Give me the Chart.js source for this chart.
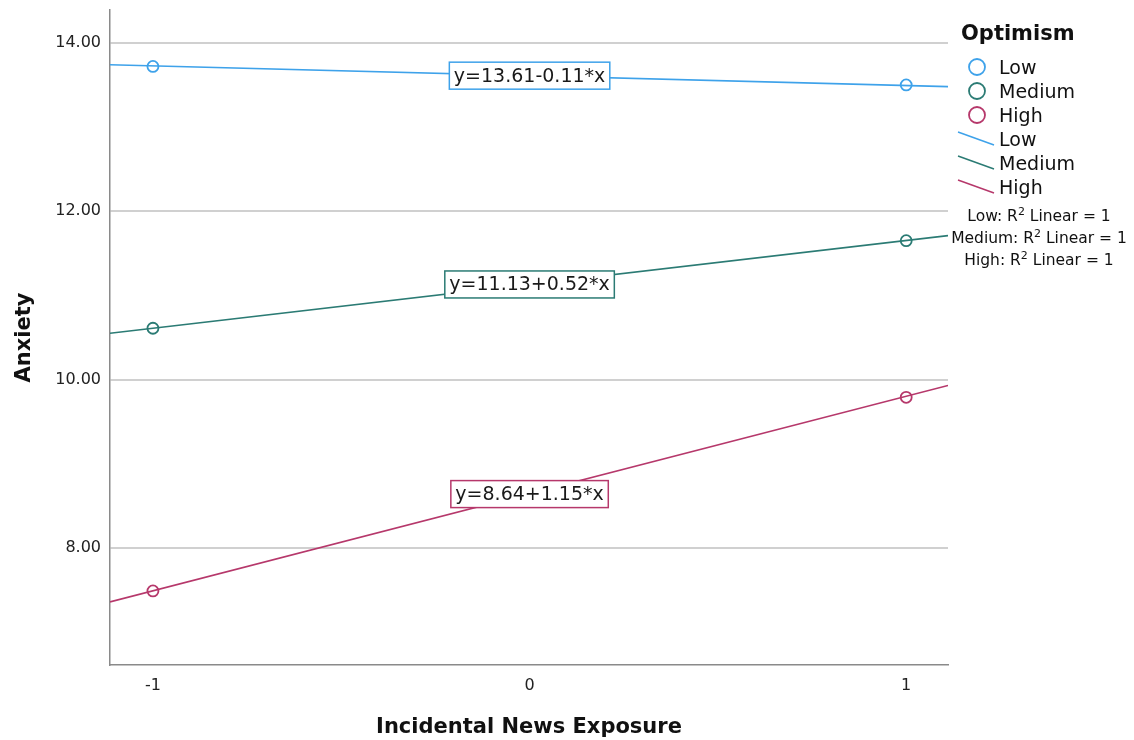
<!DOCTYPE html>
<html lang="en">
<head>
    <meta charset="UTF-8">
    <title>Anxiety by Incidental News Exposure</title>
    <script src="https://cdn.jsdelivr.net/npm/chart.js"></script>
    <style>
        body {
            margin: 0;
            background: #ffffff;
            font-family: "DejaVu Sans", sans-serif;
        }
        .wrap {
            position: relative;
            width: 1134px;
            height: 740px;
        }
        #legend {
            position: absolute;
            left: 948px;
            top: 21px;
            width: 186px;
            color: #111;
        }
        #legend .title {
            font-weight: bold;
            font-size: 21px;
            margin-left: 13px;
            height: 34px;
        }
        #legend .row {
            display: flex;
            align-items: center;
            height: 24px;
            font-size: 19px;
        }
        #legend .row svg {
            width: 51px;
            height: 24px;
            flex: none;
        }
        #legend .r2 {
            font-size: 15.5px;
            text-align: center;
            width: 186px;
            margin-left: -2px;
            height: 22px;
            line-height: 22px;
        }
        #legend .r2 sup {
            font-size: 11px;
            line-height: 0;
        }
    </style>
</head>
<body>
    <div class="wrap">
        <canvas id="chart" width="1134" height="740"></canvas>
        <div id="legend"></div>
    </div>

    <script>
        // values
        const groups = ["Low", "Medium", "High"];
        const colors = ["#3ea2ea", "#2b7b74", "#b6386b"];
        const xTicks = [-1, 0, 1];
        const yTicks = [8, 10, 12, 14];

        const pointX = [-1, 1];
        const lowPoints = [13.72, 13.50];
        const mediumPoints = [10.61, 11.65];
        const highPoints = [7.49, 9.79];

        // fit line ends at the edges of the plot
        const lineX = [-1.114, 1.111];
        const lowLine = [13.74, 13.48];
        const mediumLine = [10.55, 11.71];
        const highLine = [7.36, 9.93];

        const equations = ["y=13.61-0.11*x", "y=11.13+0.52*x", "y=8.64+1.15*x"];
        const interceptValues = [13.61, 11.13, 8.64];
        const r2Labels = ["Low", "Medium", "High"];

        const pointSets = [lowPoints, mediumPoints, highPoints];
        const lineSets = [lowLine, mediumLine, highLine];

        const toXY = (xs, ys) => xs.map((x, i) => ({ x: x, y: ys[i] }));

        const datasets = [];
        groups.forEach((g, i) => {
            datasets.push({
                label: g + " fit",
                data: toXY(lineX, lineSets[i]),
                showLine: true,
                borderColor: colors[i],
                borderWidth: 1.6,
                pointRadius: 0,
                order: 2
            });
        });
        groups.forEach((g, i) => {
            datasets.push({
                label: g,
                data: toXY(pointX, pointSets[i]),
                showLine: false,
                borderColor: colors[i],
                backgroundColor: "rgba(255,255,255,0)",
                borderWidth: 1.8,
                pointRadius: 5.5,
                order: 1
            });
        });

        const equationLabels = {
            id: "equationLabels",
            afterDatasetsDraw(chart) {
                const ctx = chart.ctx;
                const xs = chart.scales.x;
                const ys = chart.scales.y;
                ctx.save();
                ctx.font = "19px 'DejaVu Sans'";
                ctx.textAlign = "center";
                ctx.textBaseline = "middle";
                equations.forEach((text, i) => {
                    const cx = xs.getPixelForValue(0);
                    const cy = ys.getPixelForValue(interceptValues[i]);
                    const w = ctx.measureText(text).width + 9;
                    const h = 27;
                    ctx.fillStyle = "#ffffff";
                    ctx.fillRect(cx - w / 2, cy - h / 2, w, h);
                    ctx.strokeStyle = colors[i];
                    ctx.lineWidth = 1.5;
                    ctx.strokeRect(cx - w / 2, cy - h / 2, w, h);
                    ctx.fillStyle = "#1a1a1a";
                    ctx.fillText(text, cx, cy + 1);
                });
                ctx.restore();
            }
        };

        new Chart(document.getElementById("chart"), {
            type: "scatter",
            data: { datasets: datasets },
            plugins: [equationLabels],
            options: {
                responsive: false,
                animation: false,
                layout: {
                    padding: { top: 10, right: 186, left: 0, bottom: 0 }
                },
                plugins: {
                    legend: { display: false },
                    tooltip: { enabled: false }
                },
                scales: {
                    x: {
                        type: "linear",
                        min: -1.114,
                        max: 1.111,
                        afterBuildTicks: (scale) => {
                            scale.ticks = xTicks.map(v => ({ value: v }));
                        },
                        afterFit: (scale) => {
                            scale.height = 75;
                            scale.paddingLeft = 0;
                            scale.paddingRight = 0;
                        },
                        grid: { display: false, drawTicks: false },
                        border: { color: "#8a8a8a", width: 1.5 },
                        ticks: {
                            padding: 11,
                            color: "#222",
                            font: { family: "DejaVu Sans", size: 16 },
                            callback: (v) => String(v)
                        },
                        title: {
                            display: true,
                            text: "Incidental News Exposure",
                            color: "#111",
                            font: { family: "DejaVu Sans", size: 21, weight: "bold" },
                            padding: { top: 0, bottom: 0 }
                        }
                    },
                    y: {
                        type: "linear",
                        min: 6.61,
                        max: 14.39,
                        afterBuildTicks: (scale) => {
                            scale.ticks = yTicks.map(v => ({ value: v }));
                        },
                        afterFit: (scale) => {
                            scale.width = 110;
                            scale.paddingTop = 0;
                            scale.paddingBottom = 0;
                        },
                        grid: { color: "#d0d0d0", lineWidth: 2, drawTicks: false },
                        border: { color: "#8a8a8a", width: 1.5 },
                        ticks: {
                            padding: 9,
                            color: "#222",
                            font: { family: "DejaVu Sans", size: 16 },
                            callback: (v) => v.toFixed(2)
                        },
                        title: {
                            display: true,
                            text: "Anxiety",
                            color: "#111",
                            font: { family: "DejaVu Sans", size: 21, weight: "bold" },
                            padding: { top: 12, bottom: 0 }
                        }
                    }
                }
            }
        });

        // legend on the right
        const legend = document.getElementById("legend");
        let html = '<div class="title">Optimism</div>';
        groups.forEach((g, i) => {
            html += '<div class="row"><svg><circle cx="29" cy="12" r="8" fill="none" stroke="' +
                colors[i] + '" stroke-width="1.8"/></svg><span>' + g + '</span></div>';
        });
        groups.forEach((g, i) => {
            html += '<div class="row"><svg><line x1="10" y1="5" x2="46" y2="18" stroke="' +
                colors[i] + '" stroke-width="1.5"/></svg><span>' + g + '</span></div>';
        });
        html += '<div style="height:6px"></div>';
        r2Labels.forEach((g) => {
            html += '<div class="r2">' + g + ': R<sup>2</sup> Linear = 1</div>';
        });
        legend.innerHTML = html;
    </script>
</body>
</html>
